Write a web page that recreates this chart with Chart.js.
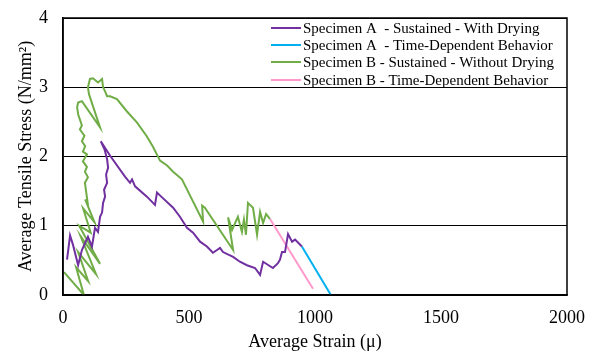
<!DOCTYPE html>
<html>
<head>
<meta charset="utf-8">
<script src="https://cdn.jsdelivr.net/npm/chart.js@4/dist/chart.umd.min.js"></script>
<style>
html,body{margin:0;padding:0;background:#fff;}
canvas{display:block;}
</style>
</head>
<body>
<canvas id="c" width="598" height="353"></canvas>
<script>
// ---- Data ----
const seriesNames = [
  "Specimen A  - Sustained - With Drying",
  "Specimen A  - Time-Dependent Behavior",
  "Specimen B - Sustained - Without Drying",
  "Specimen B - Time-Dependent Behavior"
];

const aSustainedStrain = [16, 28, 40, 60, 75, 99, 115, 127, 139, 147, 155, 159, 167, 163, 175, 171, 179, 175, 165, 150, 187, 246, 266, 274, 286, 333, 365, 373, 393, 437, 464, 492, 516, 544, 571, 595, 611, 623, 635, 675, 702, 730, 762, 782, 794, 833, 853, 861, 869, 881, 893, 909, 921, 948];
const aSustainedStress = [0.51, 0.86, 0.72, 0.43, 0.65, 0.84, 0.70, 0.97, 0.91, 1.13, 1.19, 1.33, 1.42, 1.52, 1.62, 1.74, 1.84, 1.96, 2.10, 2.22, 2.01, 1.71, 1.62, 1.67, 1.57, 1.42, 1.30, 1.48, 1.41, 1.26, 1.13, 0.97, 0.90, 0.77, 0.70, 0.61, 0.65, 0.68, 0.62, 0.55, 0.48, 0.43, 0.39, 0.29, 0.48, 0.39, 0.46, 0.51, 0.62, 0.62, 0.88, 0.77, 0.80, 0.70];

const aTimeStrain = [948, 1063];
const aTimeStress = [0.70, 0.0];

const bSustainedStrain = [4, 83, 52, 100, 60, 131, 70, 147, 64, 110, 80, 125, 88, 99, 87, 99, 87, 95, 79, 95, 79, 88, 75, 85, 67, 75, 60, 56, 60, 75, 147, 103, 99, 107, 119, 139, 155, 159, 167, 175, 187, 214, 254, 294, 333, 357, 385, 413, 437, 472, 556, 552, 563, 675, 655, 671, 694, 710, 718, 726, 734, 754, 770, 782, 794, 806, 821];
const bSustainedStress = [0.33, 0.00, 0.40, 0.20, 0.62, 0.30, 0.85, 0.45, 1.00, 0.90, 1.25, 1.05, 1.38, 1.30, 1.62, 1.70, 1.78, 1.85, 1.93, 2.03, 2.07, 2.15, 2.22, 2.30, 2.39, 2.45, 2.61, 2.71, 2.78, 2.80, 2.42, 2.90, 3.00, 3.12, 3.13, 3.07, 3.12, 3.00, 2.94, 2.87, 2.87, 2.83, 2.65, 2.49, 2.29, 2.14, 1.94, 1.87, 1.78, 1.67, 1.06, 1.29, 1.26, 0.65, 1.12, 0.94, 1.13, 0.91, 1.09, 0.87, 1.33, 1.26, 0.87, 1.20, 1.04, 1.17, 1.10];

const bTimeStrain = [821, 992];
const bTimeStress = [1.10, 0.09];

const xTicks = [0, 500, 1000, 1500, 2000];
const yTicks = [0, 1, 2, 3, 4];

const xTitle = "Average Strain (\u03bc)";
const yTitle = "Average Tensile Stress (N/mm\u00b2)";

const colors = ["#7030A0", "#00B0F0", "#70AD47", "#FF99CC"];

function zip(xs, ys) { return xs.map((x, i) => ({x: x, y: ys[i]})); }

const FONT = "'Liberation Serif', 'Times New Roman', serif";

const legendPlugin = {
  id: 'insideLegend',
  afterDatasetsDraw(chart) {
    const ctx = chart.ctx;
    const x0 = 271, x1 = 301, tx = 303;
    const ys = [28, 45, 62, 80];
    ctx.save();
    ctx.font = "15px " + FONT;
    ctx.textBaseline = "middle";
    ctx.textAlign = "left";
    chart.data.datasets.forEach((ds, i) => {
      ctx.strokeStyle = ds.borderColor;
      ctx.lineWidth = 2;
      ctx.beginPath();
      ctx.moveTo(x0, ys[i]);
      ctx.lineTo(x1, ys[i]);
      ctx.stroke();
      ctx.fillStyle = "#000";
      ctx.fillText(ds.label, tx, ys[i] + 1);
    });
    ctx.restore();
  }
};

const framePlugin = {
  id: 'frame',
  afterDraw(chart) {
    const a = chart.chartArea;
    const ctx = chart.ctx;
    ctx.save();
    ctx.strokeStyle = "#000";
    ctx.lineWidth = 1.5;
    ctx.strokeRect(a.left, a.top, a.right - a.left, a.bottom - a.top);
    ctx.restore();
  }
};

const series = [
  [aSustainedStrain, aSustainedStress],
  [aTimeStrain, aTimeStress],
  [bSustainedStrain, bSustainedStress],
  [bTimeStrain, bTimeStress]
];

new Chart(document.getElementById('c'), {
  type: 'scatter',
  data: {
    datasets: series.map((s, i) => ({
      label: seriesNames[i],
      data: zip(s[0], s[1]),
      showLine: true,
      borderColor: colors[i],
      backgroundColor: colors[i],
      borderWidth: 2,
      pointRadius: 0,
      tension: 0
    }))
  },
  options: {
    responsive: false,
    animation: false,
    devicePixelRatio: 1,
    layout: { padding: { top: 18, right: 31, left: 0, bottom: 0 } },
    plugins: { legend: { display: false }, tooltip: { enabled: false } },
    scales: {
      x: {
        type: 'linear', min: 0, max: 2000,
        afterBuildTicks(scale) { scale.ticks = xTicks.map(v => ({value: v})); },
        afterFit(scale) { scale.height = 58; scale.paddingLeft = 0; scale.paddingRight = 0; },
        ticks: { color: '#000', font: { family: FONT, size: 18 }, padding: 4, maxRotation: 0, callback: v => String(v) },
        grid: { display: false },
        border: { color: '#000', width: 1.5 },
        title: { display: true, text: xTitle, color: '#000', font: { family: FONT, size: 18 }, padding: { top: 0, bottom: 0 } }
      },
      y: {
        type: 'linear', min: 0, max: 4,
        afterBuildTicks(scale) { scale.ticks = yTicks.map(v => ({value: v})); },
        afterFit(scale) { scale.width = 63; scale.paddingTop = 0; scale.paddingBottom = 0; },
        ticks: { color: '#000', font: { family: FONT, size: 18 }, padding: 15, callback: v => String(v) },
        grid: { color: '#000', lineWidth: 1, drawTicks: false },
        border: { color: '#000', width: 1.5 },
        title: { display: true, text: yTitle, color: '#000', font: { family: FONT, size: 18 }, padding: { top: 15, bottom: 0 } }
      }
    }
  },
  plugins: [legendPlugin, framePlugin]
});
</script>
</body>
</html>
